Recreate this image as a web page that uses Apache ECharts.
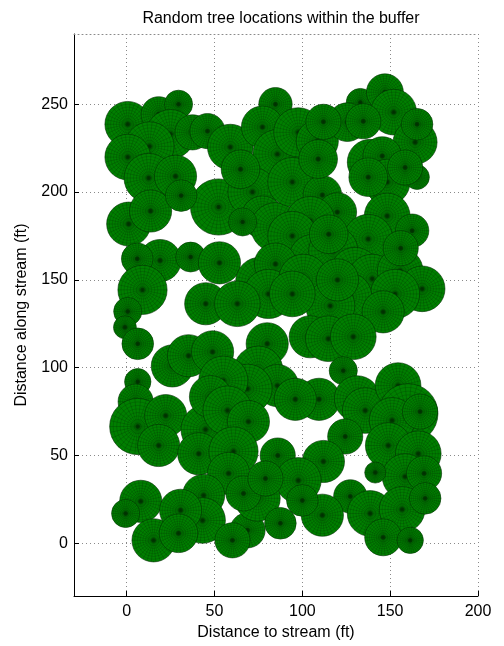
<!DOCTYPE html>
<html>
<head>
<meta charset="utf-8">
<script src="https://cdn.jsdelivr.net/npm/echarts@6/dist/echarts.min.js"></script>
<style>
  html, body { margin: 0; padding: 0; background: #fff; }
  #chart { width: 504px; height: 646px; }
</style>
</head>
<body>
<div id="chart"></div>
<script>
// Tree crown centres (ft) and crown radii (ft)
const treeX = [
  0.6, 18.2, 29.5, 25, 13, 37.5, 46, 59, 84.7, 77.3, 85.8, 97.7, 108.5, 133, 147, 152, 125.6, 134.7, 164.2, 165.3,
  0.6, 12.5, 27.8, 52.3, 71.6, 1.1, 13.6, 77.3, 84.7, 94.3, 111.4, 119.9, 104.5, 94.3, 138.6, 145.5, 148.3, 137.5, 165.3, 148.3,
  162.5, 137.5, 109, 106.3, 19, 6, 36.4, 52.8, 9, 76, 84.7, 80.7, 45, 63, 0.6, -1, 117.6, 130, 139.8, 155.7,
  168.2, 152.8, 100.6, 125.6, 115.9, 146, 94.3, 6.3, 6.3, 26, 35.2, 48.9, 80, 75, 85.8, 68.8, 55, 104.5, 114.8, 129,
  123.3, 109.5, 131.2, 135.8, 154.5, 160.2, 151.1, 167, 96, 5.1, 6.3, 22.2, 18.2, 44.9, 41, 47.7, 57.4, 69.3, 60.8, 58,
  86, 124.4, 148.9, 166, 112, 97.7, 158.5, 169.3, 141.5, 127.3, 138.6, 156.8, 169.9, 146, 161.4, 111.4, 100, 8, -0.6, 15.3,
  43.8, 43.2, 30.7, 68.8, 60.2, 74.4, 66.5, 87.5, 64.8, 112, 158.5, 156, 79, 29.5, 115, 120,
  31, 66
];
const treeY = [
  238.6, 244.3, 250, 233, 226, 234, 234.7, 225.6, 250, 237, 221.6, 234, 229, 251, 256.8, 245.5, 239.8, 240.3, 228.4, 238.6,
  219.9, 208, 209, 191.5, 200, 181.8, 189.2, 185.8, 180, 205.7, 198.3, 188.6, 183.5, 175, 217, 220.5, 205.7, 208.5, 208.5, 186.4,
  178, 173.3, 218.8, 162, 161, 162, 163, 159.7, 144.3, 148.9, 159, 142, 136.4, 136.4, 132, 123, 166.5, 154.5, 150.6, 155.1,
  144.9, 142, 150.6, 140.3, 135.2, 131.8, 142, 113.6, 92, 101, 106.8, 109, 113.6, 98.3, 89.8, 88, 92.6, 117.6, 116.5, 117.6,
  98.3, 82, 82.4, 75.6, 89.8, 73.9, 70, 75, 82, 80.7, 66.5, 72.7, 55.7, 64.8, 51, 83.5, 75.6, 69.3, 52.3, 39.8,
  50, 60.8, 55.7, 51, 46.6, 35.8, 38, 39.8, 40.3, 26.7, 17, 19.3, 25.6, 3.4, 1.7, 16, 24.4, 23.9, 17, 1.7,
  27.3, 13, 18.8, 7.4, 1.7, 25.6, 28.4, 11.4, 213, 240, 214, 168, 36.9, 5.7, 176, 150,
  198, 183
];
const crownR = [
  13, 10, 8, 14, 14, 10, 10, 13, 9.5, 12, 14, 14, 12, 8, 10.5, 13, 11, 10, 12.5, 9,
  13, 14, 12, 16, 14, 12.5, 12, 12, 14, 14, 11, 11, 14, 14, 13, 11, 13, 11, 7, 13,
  9.5, 14, 11, 14, 12, 9, 8.5, 12, 14, 14, 12, 14, 12, 13, 8, 6.5, 14, 14, 14, 13,
  13, 14, 14, 14, 14, 12, 13, 9, 7.5, 12, 12, 12, 12, 14, 12, 14, 14, 12, 13, 13,
  8, 12, 13, 13, 13, 17, 13, 10, 12, 10, 16, 12, 12, 14, 12, 12, 14, 12, 14, 12,
  10, 10, 13, 13, 12, 13, 13, 10, 6, 9.5, 13, 13, 9, 10.5, 7.5, 12, 9, 12, 8, 12.3,
  12, 13, 12, 10, 10, 13, 10, 9, 11, 10, 10, 10, 10, 11, 11, 12,
  9, 8
];

const xTicks = [0, 50, 100, 150, 200];
const yTicks = [0, 50, 100, 150, 200, 250];

const FONT = '"Liberation Sans", Arial, Helvetica, sans-serif';
const SPOKES = 30;
const RINGS = 8;

// Each crown is a filled disc with a polar mesh (rings and spokes) on top
function renderCrown(params, api) {
  const c = api.coord([api.value(0), api.value(1)]);
  const rp = api.size([api.value(2), 0])[0];
  const cx = c[0], cy = c[1];
  const children = [{
    type: 'circle',
    shape: { cx: cx, cy: cy, r: rp },
    style: { fill: '#007f00', stroke: 'rgba(0,45,0,0.75)', lineWidth: 0.8 }
  }];
  for (let k = 1; k < RINGS; k++) {
    children.push({
      type: 'circle',
      shape: { cx: cx, cy: cy, r: rp * k / RINGS },
      style: { fill: 'none', stroke: 'rgba(0,40,0,0.35)', lineWidth: 0.6 }
    });
  }
  for (let k = 0; k < SPOKES; k++) {
    const a = 2 * Math.PI * k / SPOKES;
    children.push({
      type: 'line',
      shape: { x1: cx, y1: cy, x2: cx + rp * Math.cos(a), y2: cy + rp * Math.sin(a) },
      style: { stroke: 'rgba(0,40,0,0.4)', lineWidth: 0.6 }
    });
  }
  children.push({
    type: 'circle',
    shape: { cx: cx, cy: cy, r: 2.2 },
    style: { fill: 'rgba(0,50,0,0.8)' }
  });
  return { type: 'group', children: children };
}

const dottedGrid = { show: true, lineStyle: { color: '#8a8a8a', type: [1, 3], width: 1 } };

const chart = echarts.init(document.getElementById('chart'), null, { renderer: 'canvas' });
chart.setOption({
  animation: false,
  backgroundColor: '#fff',
  title: {
    text: 'Random tree locations within the buffer',
    left: 276, top: 6, textAlign: 'center',
    textStyle: { fontFamily: FONT, fontSize: 16, fontWeight: 'normal', color: '#000' }
  },
  grid: { left: 74, right: 26, top: 34, bottom: 50, containLabel: false },
  xAxis: [{
    type: 'value', min: -30, max: 200,
    name: 'Distance to stream (ft)', nameLocation: 'middle', nameGap: 25,
    nameTextStyle: { fontFamily: FONT, fontSize: 16, color: '#000' },
    axisLine: { show: true, onZero: false, lineStyle: { color: '#000', width: 1 } },
    axisTick: { show: true, inside: true, length: 5, customValues: xTicks, lineStyle: { color: '#000' } },
    axisLabel: { customValues: xTicks, fontFamily: FONT, fontSize: 16, color: '#000', margin: 8 },
    splitLine: dottedGrid
  }, {
    type: 'value', min: -30, max: 200, position: 'top',
    axisLine: { show: true, onZero: false, lineStyle: { color: '#8a8a8a', type: [1, 3], width: 1 } },
    axisTick: { show: false }, axisLabel: { show: false }, splitLine: { show: false }
  }],
  yAxis: {
    type: 'value', min: -30, max: 290,
    name: 'Distance along stream (ft)', nameLocation: 'middle', nameGap: 44, nameRotate: 90,
    nameTextStyle: { fontFamily: FONT, fontSize: 16, color: '#000' },
    axisLine: { show: true, onZero: false, lineStyle: { color: '#000', width: 1 } },
    axisTick: { show: true, inside: true, length: 5, customValues: yTicks, lineStyle: { color: '#000' } },
    axisLabel: { customValues: yTicks, fontFamily: FONT, fontSize: 16, color: '#000', margin: 6 },
    splitLine: dottedGrid
  },
  series: [{
    type: 'custom',
    xAxisIndex: 0, yAxisIndex: 0,
    renderItem: renderCrown,
    encode: { x: 0, y: 1 },
    data: treeX.map((x, i) => [x, treeY[i], crownR[i]])
  }]
});
</script>
</body>
</html>
